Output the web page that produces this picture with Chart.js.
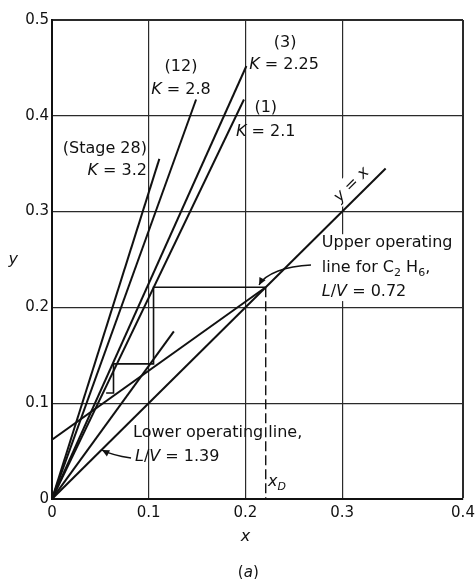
<!DOCTYPE html>
<html>
<head>
<meta charset="utf-8">
<script src="https://cdn.jsdelivr.net/npm/chart.js@4.4.1/dist/chart.umd.min.js"></script>
<style>
  html, body { margin: 0; padding: 0; background: #fff; }
  canvas { display: block; }
</style>
</head>
<body>
<canvas id="c" width="476" height="579"></canvas>
<script>
// ---------- axis ticks (the scanned frame's last division is drawn wider; its edge is labelled 0.4) ----------
const xTickValues = [0, 0.1, 0.2, 0.3, 0.425];
const xTickLabels = ['0', '0.1', '0.2', '0.3', '0.4'];
const yTickValues = [0, 0.1, 0.2, 0.3, 0.4, 0.5];
const yTickLabels = ['0', '0.1', '0.2', '0.3', '0.4', '0.5'];

// ---------- equilibrium lines y = K x ----------
const stage28X = [0, 0.111];  const stage28Y = [0, 0.355];   // K = 3.2
const stage12X = [0, 0.149];  const stage12Y = [0, 0.417];   // K = 2.8
const stage3X  = [0, 0.201];  const stage3Y  = [0, 0.452];   // K = 2.25
const stage1X  = [0, 0.1985]; const stage1Y  = [0, 0.417];   // K = 2.1

// ---------- y = x ----------
const diagX = [0, 0.345]; const diagY = [0, 0.345];

// ---------- operating lines ----------
const upperOpX = [0, 0.221]; const upperOpY = [0.062, 0.221];  // L/V = 0.72
const lowerOpX = [0, 0.126]; const lowerOpY = [0, 0.175];      // L/V = 1.39

// ---------- stage stepping ----------
const stepX = [0.221, 0.105, 0.105, 0.0636, 0.0636, 0.056];
const stepY = [0.221, 0.221, 0.141, 0.141, 0.1107, 0.1107];

// ---------- distillate composition x_D ----------
const xDX = [0.221, 0.221]; const xDY = [0.221, 0];

function pts(xs, ys) { return xs.map((x, i) => ({ x: x, y: ys[i] })); }

const FONT = "'DejaVu Sans', 'Liberation Sans', sans-serif";

function ds(xs, ys, w, dash) {
  return {
    data: pts(xs, ys), showLine: true, pointRadius: 0, borderColor: '#111',
    borderWidth: w, borderDash: dash || [], fill: false, tension: 0
  };
}

function fontFor(style, size) {
  if (style === 'i') return 'italic ' + size + 'px ' + FONT;
  if (style === 's') return Math.round(size * 0.7) + 'px ' + FONT;
  if (style === 'si') return 'italic ' + Math.round(size * 0.7) + 'px ' + FONT;
  return size + 'px ' + FONT;
}
function richWidth(ctx, parts, size) {
  let w = 0;
  parts.forEach(p => { ctx.font = fontFor(p[1], size); w += ctx.measureText(p[0]).width; });
  return w;
}
function drawRich(ctx, parts, x, y, align, size) {
  const w = richWidth(ctx, parts, size);
  let cx = align === 'center' ? x - w / 2 : (align === 'right' ? x - w : x);
  ctx.textBaseline = 'middle';
  ctx.textAlign = 'left';
  ctx.fillStyle = '#111';
  parts.forEach(p => {
    ctx.font = fontFor(p[1], size);
    const dy = (p[1] === 's' || p[1] === 'si') ? size * 0.3 : 0;
    ctx.fillText(p[0], cx, y + dy);
    cx += ctx.measureText(p[0]).width;
  });
  return w;
}

// annotation anchors (data coordinates)
const labels = [
  { at: [0.1334, 0.451], align: 'center', parts: [['(12)', '']] },
  { at: [0.1334, 0.427], align: 'center', parts: [['K', 'i'], [' = 2.8', '']] },
  { at: [0.241, 0.476], align: 'center', parts: [['(3)', '']] },
  { at: [0.240, 0.453], align: 'center', parts: [['K', 'i'], [' = 2.25', '']] },
  { at: [0.221, 0.408], align: 'center', parts: [['(1)', '']] },
  { at: [0.221, 0.383], align: 'center', parts: [['K', 'i'], [' = 2.1', '']] },
  { at: [0.0982, 0.366], align: 'right', parts: [['(Stage 28)', '']] },
  { at: [0.0982, 0.343], align: 'right', parts: [['K', 'i'], [' = 3.2', '']] },
  { at: [0.279, 0.267], align: 'left', parts: [['Upper operating', '']] },
  { at: [0.279, 0.241], align: 'left', parts: [['line for C', ''], ['2', 's'], [' H', ''], ['6', 's'], [',', '']] },
  { at: [0.279, 0.216], align: 'left', parts: [['L', 'i'], ['/', ''], ['V', 'i'], [' = 0.72', '']] },
  { at: [0.0838, 0.0689], align: 'left', parts: [['Lower operating line,', '']] },
  { at: [0.0858, 0.0438], align: 'left', parts: [['L', 'i'], ['/', ''], ['V', 'i'], [' = 1.39', '']] },
  { at: [0.2234, 0.0177], align: 'left', parts: [['x', 'i'], ['D', 'si']] }
];
const upperLeader = [[0.2678, 0.2443], [0.2410, 0.2432], [0.2203, 0.2349], [0.2141, 0.2234]];
const lowerLeader = [[0.0817, 0.0428], [0.0620, 0.0459], [0.0517, 0.0511]];

function arrowHead(ctx, fx, fy, tx, ty) {
  const a = Math.atan2(ty - fy, tx - fx);
  const L = 8, s = 0.45;
  ctx.beginPath();
  ctx.moveTo(tx, ty);
  ctx.lineTo(tx - L * Math.cos(a - s), ty - L * Math.sin(a - s));
  ctx.lineTo(tx - L * Math.cos(a + s), ty - L * Math.sin(a + s));
  ctx.closePath();
  ctx.fill();
}

const annotPlugin = {
  id: 'annot',
  beforeDraw(chart) {
    const ctx = chart.ctx;
    ctx.save(); ctx.fillStyle = '#fff'; ctx.fillRect(0, 0, chart.width, chart.height); ctx.restore();
  },
  beforeDatasetsDraw(chart) {
    const ctx = chart.ctx, xs = chart.scales.x, ys = chart.scales.y;
    ctx.save();
    ctx.fillStyle = '#fff';
    const ux = xs.getPixelForValue(0.279), uy1 = ys.getPixelForValue(0.267), uy2 = ys.getPixelForValue(0.216);
    ctx.fillRect(ux - 4, uy1 - 9, 140, (uy2 - uy1) + 18);
    const px = xs.getPixelForValue(0.310), py = ys.getPixelForValue(0.328);
    const ang = Math.atan2(ys.getPixelForValue(1) - ys.getPixelForValue(0), xs.getPixelForValue(1) - xs.getPixelForValue(0));
    ctx.translate(px, py); ctx.rotate(ang);
    ctx.fillRect(-24, -11, 48, 20);
    ctx.restore();
  },
  afterDatasetsDraw(chart) {
    const ctx = chart.ctx, xs = chart.scales.x, ys = chart.scales.y;
    const X = v => xs.getPixelForValue(v), Y = v => ys.getPixelForValue(v);
    ctx.save();
    labels.forEach(l => drawRich(ctx, l.parts, X(l.at[0]), Y(l.at[1]), l.align, 16));

    const ang = Math.atan2(Y(1) - Y(0), X(1) - X(0));
    ctx.save();
    ctx.translate(X(0.310), Y(0.328)); ctx.rotate(ang);
    drawRich(ctx, [['y', 'i'], [' = ', ''], ['x', 'i']], 0, 0, 'center', 16);
    ctx.restore();

    ctx.strokeStyle = '#111'; ctx.fillStyle = '#111'; ctx.lineWidth = 1.4;
    const u = upperLeader.map(p => [X(p[0]), Y(p[1])]);
    ctx.beginPath(); ctx.moveTo(u[0][0], u[0][1]);
    ctx.bezierCurveTo(u[1][0], u[1][1], u[2][0], u[2][1], u[3][0], u[3][1]); ctx.stroke();
    arrowHead(ctx, u[2][0], u[2][1], u[3][0], u[3][1]);
    const lo = lowerLeader.map(p => [X(p[0]), Y(p[1])]);
    ctx.beginPath(); ctx.moveTo(lo[0][0], lo[0][1]);
    ctx.quadraticCurveTo(lo[1][0], lo[1][1], lo[2][0], lo[2][1]); ctx.stroke();
    arrowHead(ctx, lo[1][0], lo[1][1], lo[2][0], lo[2][1]);

    ctx.fillStyle = '#111';
    drawRich(ctx, [['y', 'i']], X(-0.040), Y(0.250), 'center', 16);
    drawRich(ctx, [['x', 'i']], X(0.200), Y(-0.0397), 'center', 16);
    drawRich(ctx, [['(', ''], ['a', 'i'], [')', '']], X(0.203), Y(-0.077), 'center', 15);
    ctx.restore();
  }
};

const gridCol = '#2a2a2a';
new Chart(document.getElementById('c'), {
  type: 'scatter',
  data: {
    datasets: [
      ds(stage28X, stage28Y, 2),
      ds(stage12X, stage12Y, 2),
      ds(stage3X, stage3Y, 2),
      ds(stage1X, stage1Y, 2),
      ds(diagX, diagY, 2),
      ds(upperOpX, upperOpY, 2),
      ds(lowerOpX, lowerOpY, 2),
      ds(stepX, stepY, 1.6),
      ds(xDX, xDY, 1.4, [10, 4])
    ]
  },
  options: {
    responsive: false,
    animation: false,
    devicePixelRatio: 1,
    layout: { padding: { top: 20, right: 13, left: 0, bottom: 0 } },
    plugins: { legend: { display: false }, tooltip: { enabled: false }, title: { display: false } },
    scales: {
      x: {
        type: 'linear', min: 0, max: 0.425,
        afterBuildTicks: s => { s.ticks = xTickValues.map(v => ({ value: v })); },
        afterFit: s => { s.height = 80; s.paddingLeft = 0; s.paddingRight = 0; },
        ticks: {
          autoSkip: false, maxRotation: 0, padding: 5, color: '#111',
          font: { family: FONT, size: 15 },
          callback: (v, i) => xTickLabels[i]
        },
        grid: {
          color: gridCol, drawTicks: false,
          lineWidth: c => (c.tick && c.tick.value === 0.425) ? 2 : 1.2
        },
        border: { display: true, color: '#111', width: 2 }
      },
      y: {
        type: 'linear', min: 0, max: 0.5,
        afterBuildTicks: s => { s.ticks = yTickValues.map(v => ({ value: v })); },
        afterFit: s => { s.width = 52; s.paddingTop = 0; s.paddingBottom = 0; },
        ticks: {
          autoSkip: false, padding: 3, color: '#111',
          font: { family: FONT, size: 15 },
          callback: (v, i) => yTickLabels[i]
        },
        grid: {
          color: gridCol, drawTicks: false,
          lineWidth: c => (c.tick && c.tick.value === 0.5) ? 2 : 1.2
        },
        border: { display: true, color: '#111', width: 2 }
      }
    }
  },
  plugins: [annotPlugin]
});
</script>
</body>
</html>
